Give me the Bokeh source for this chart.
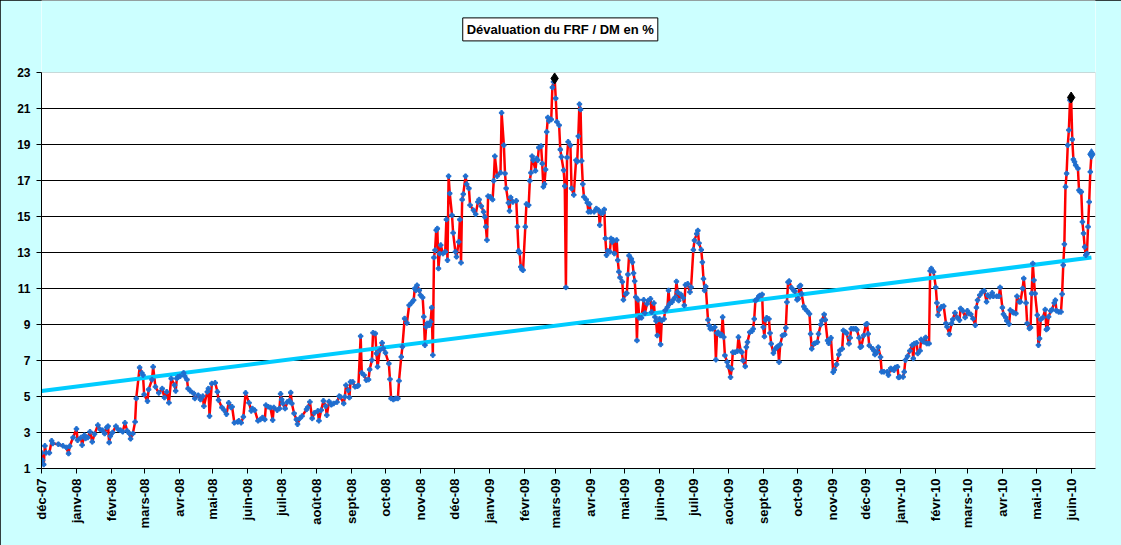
import math
import datetime as dt
from bokeh.plotting import figure
from bokeh.models import FixedTicker, Label, Range1d, ColumnDataSource, BoxAnnotation
from bokeh.embed import file_html
from bokeh.resources import INLINE

title_text = "Dévaluation du FRF / DM en %"
origin = dt.date(2007, 12, 1)      # day 0 of the x axis
x_end_day = 934.6
y_min, y_max = 1, 23
y_ticks = list(range(1, 24, 2))
tick_labels = ["déc-07", "janv-08", "févr-08", "mars-08", "avr-08", "mai-08",
               "juin-08", "juil-08", "août-08", "sept-08", "oct-08", "nov-08",
               "déc-08", "janv-09", "févr-09", "mars-09", "avr-09", "mai-09",
               "juin-09", "juil-09", "août-09", "sept-09", "oct-09", "nov-09",
               "déc-09", "janv-10", "févr-10", "mars-10", "avr-10", "mai-10",
               "juin-10"]

# days since 2007-12-01
days = [0, 1, 2, 3, 4, 7, 9, 10, 15, 19, 22, 24, 25, 28, 31, 32, 35, 36, 38, 39, 41, 43, 45, 47, 50, 52, 54, 56, 58, 59,
        60, 61, 63, 66, 68, 70, 72, 74, 76, 78, 79, 81, 83, 84, 87, 89, 90, 91, 94, 95, 98, 99, 101, 104, 107, 109, 111,
        113, 115, 118, 119, 120, 121, 123, 126, 127, 129, 130, 132, 135, 136, 139, 141, 143, 144, 147, 148, 149, 151,
        154, 156, 157, 160, 162, 164, 166,
        168, 169, 171, 174, 175, 177, 179, 181, 184, 186, 187, 189, 192, 194, 196, 198, 199, 201, 203, 205, 206, 209,
        211, 212, 213, 214, 216, 218, 220, 221, 222, 224, 226, 227, 229, 231, 235, 236, 238, 240, 242, 245, 246, 248,
        250, 252, 253, 255, 257, 259, 262, 264, 265, 268, 269, 270, 272, 273, 274, 276, 278, 280, 281, 283, 284, 286,
        288, 290, 291, 293, 294, 296, 297, 298, 300, 302, 303, 305, 308, 309, 310, 312, 314, 316, 317, 319, 320, 322,
        324, 326, 328,
        330, 331, 332, 333, 335, 336, 338, 339, 340, 341, 342, 344, 345, 346, 347, 348, 349, 350, 351, 352, 353, 354,
        356, 358, 359, 360, 361, 362, 364, 365, 367, 368, 370, 371, 372, 373, 374, 376, 377, 379, 380, 383, 385, 387,
        388, 390, 392, 393, 394, 395, 396, 398, 400, 401, 402, 404, 407, 408, 410, 411, 412, 414, 415, 416, 418, 421,
        422, 423, 424, 425, 426, 427, 429, 430, 432, 433, 434, 435, 436, 438, 439, 440, 441, 443, 444, 445, 446, 447,
        448, 449, 450, 452, 453, 454, 455, 456, 457, 459, 460, 461, 463, 464, 465, 466, 467, 469, 470, 472, 474, 475,
        476, 477, 478, 479, 480, 481, 483, 484, 485, 486, 487, 490, 492, 494, 495, 496, 498, 499, 500, 501, 502, 504,
        505, 506, 507, 508, 510, 511, 512, 513, 515,
        516, 518, 519, 520, 521, 523, 524, 525, 526, 527, 528, 529, 530, 532, 534, 535, 537, 538, 540, 541, 543, 544,
        545, 546, 548, 549, 550, 552, 553, 555, 556, 557, 559, 560, 562, 563, 564, 565, 567, 569, 570, 571, 573, 575,
        576, 578, 579, 581, 582, 583, 585, 586, 587, 588, 589, 591, 592, 593, 595, 597, 598, 599, 600, 602, 603, 604,
        605, 606, 608, 609, 611, 612, 613, 615, 617, 618, 620, 621, 622, 624, 625, 626, 628, 630, 631, 632, 633, 634,
        636, 637, 639, 640, 641, 642, 643, 645, 646, 647, 649, 650, 652, 653, 654, 655, 657, 659, 660, 661, 662, 663,
        665, 667, 668, 670, 671, 672, 673, 674, 676, 677, 679, 681, 682, 683, 685, 686, 688, 689, 691, 692, 694, 695,
        697, 698, 699, 700, 702, 703, 705, 707, 708, 710, 711, 713, 714, 716, 717, 718, 720, 722, 723, 725, 726, 727,
        729, 731, 732, 733, 734, 737, 738, 739, 741, 742, 744,
        745, 747, 750, 751, 753, 754, 756, 757, 759, 760, 761, 764, 765, 766, 768, 770, 772, 773, 774, 776, 777, 779,
        780, 782, 784, 785, 787, 788, 789, 791, 793, 794, 795, 796, 798, 800, 802, 803, 805, 807, 808, 810, 812, 814,
        815, 817, 819, 821, 822, 824, 826, 828, 829, 830, 832, 834, 836, 838, 839, 841, 843, 844, 847, 849, 850, 852,
        853, 855, 856, 858, 859, 861, 862, 864, 865, 867, 868, 870, 871, 873, 874, 876, 877, 878, 879, 880, 881, 883,
        884, 885, 886, 888, 890, 891, 892, 893, 895, 896, 898, 899, 900, 902, 904, 905, 906, 907, 908, 909, 910, 911,
        912, 913, 914, 915, 916, 917, 919, 920, 921, 922, 923, 924, 925, 926, 927, 928, 929, 930, 931]

rates = [1.87, 1.46, 1.22, 2.26, 1.87, 1.87, 2.54, 2.39, 2.35, 2.26, 2.17, 1.83, 2.24, 2.72, 3.2, 2.57, 2.72, 2.3, 2.85,
         2.67, 2.72, 3.04, 2.48, 2.91, 3.41, 3.17, 3.13, 2.94, 3.28, 3.35,
         2.44, 2.8, 3.0, 3.35, 3.17, 3.13, 3.04, 3.54, 3.09, 2.94, 2.65, 2.94, 3.59, 4.89, 6.61, 6.31, 6.19, 5.11, 4.74,
         5.39, 5.94, 6.65, 5.54, 5.2, 5.44, 4.94, 5.26,
         4.65, 6.0, 5.63, 5.31, 6.0, 6.09, 6.13, 6.31, 6.13, 5.94, 5.44, 5.31, 5.17, 4.89, 5.07, 4.83, 5.02, 4.46, 5.26,
         5.44, 3.91, 5.72,
         5.76, 5.26, 4.8, 4.39, 4.24, 4.02, 4.65,
         4.39, 4.43, 3.54, 3.59, 3.65, 3.54, 3.87, 5.2, 4.65, 4.2, 4.33, 4.24, 3.65, 3.72, 3.83, 3.72, 4.52, 4.43, 4.39,
         3.69, 4.39, 4.24,
         4.33, 5.15, 4.83, 4.61, 4.33, 4.7, 4.76, 5.22, 4.61, 4.06, 3.72, 3.46, 3.78, 3.91, 4.28, 4.39, 4.7, 3.78, 4.09,
         4.2, 3.65, 4.24,
         4.76, 4.46, 3.96, 4.72, 4.54, 4.61, 4.69, 5.02, 4.98, 4.61, 4.98, 5.63, 5.35, 4.94, 5.81, 5.81, 5.54, 5.57, 5.61,
         8.35, 6.31, 6.19,
         5.91, 5.94, 6.5, 7.02, 8.54, 8.5, 7.39, 6.65, 7.57, 7.98, 7.67, 7.43, 6.83, 5.96, 4.89, 4.83, 4.89, 4.89, 5.87,
         7.2, 7.76, 9.33,
         9.09, 10.07, 10.2,
         10.35, 11.0, 10.9, 11.18, 10.9, 10.63, 10.5, 9.43, 7.85, 8.87, 9.06, 8.96, 9.15, 9.94, 7.3, 12.72, 13.13, 14.24,
         14.33, 12.11, 12.94, 13.41,
         12.94, 13.04, 14.83, 12.57, 17.24, 16.28, 15.07, 14.09, 13.04, 12.76, 13.59, 14.83, 12.43, 15.94, 16.24, 17.24,
         16.8, 16.56, 15.63, 15.35, 15.13, 15.81,
         15.94, 15.57, 15.26, 14.98, 14.43, 13.69, 16.13, 16.09, 15.94, 16.98, 18.35, 17.24, 17.43, 20.76, 18.96, 17.39,
         16.56, 15.76, 15.31, 16.06, 15.81, 15.87,
         14.43, 13.09, 12.98, 12.2, 12.06, 12.02, 14.43, 15.69, 15.63, 16.98, 17.43, 18.35, 18.13, 17.54, 18.22, 18.13,
         18.83, 18.91, 17.94, 16.65, 16.8, 17.61,
         19.7, 20.5, 20.31, 20.39, 22.17, 22.48, 22.67, 21.56, 20.26, 20.07, 18.72, 18.31, 17.57, 16.69, 11.06, 18.28,
         19.15, 18.96, 16.56, 16.2, 18.13, 18.04,
         19.46, 21.24, 20.94, 18.09, 16.8, 16.09, 15.94, 15.76, 15.26, 15.69, 15.26, 15.26, 15.44, 15.35, 14.52, 15.2,
         15.2, 15.39, 13.78, 12.85, 13.09, 13.04,
         13.78, 13.59, 13.69, 12.94, 13.69, 12.57, 11.93, 11.61, 11.37,
         10.37, 10.7, 10.74, 11.78, 12.83, 12.65, 12.46, 11.85, 11.41, 10.52, 8.11, 10.37, 9.37, 9.37, 10.37, 9.63, 10.15,
         10.33, 10.43, 9.69, 10.19, 9.41,
         9.19, 8.39, 9.31, 7.89, 9.22, 9.31, 9.78, 9.96, 10.89, 10.15, 10.24, 10.37, 10.52, 11.39, 10.8, 10.33, 10.67,
         10.48, 10.06, 11.2, 11.26, 10.8,
         11.07, 13.15, 13.67, 14.04, 14.22, 13.52, 13.15, 12.46, 11.54, 10.89, 11.11, 9.26, 8.94, 8.76, 8.76, 8.85, 7.04,
         8.52, 8.57, 8.39, 8.44, 9.41,
         8.3, 7.28, 6.91, 6.67, 6.07, 6.54, 7.46, 7.46, 7.52, 8.3, 7.52, 7.46, 7.0, 6.67, 7.74, 8.02, 8.57, 8.63, 8.76,
         9.31, 10.33, 10.37,
         10.56, 10.61, 10.67, 8.85, 8.33, 9.26, 9.37, 9.31, 8.52, 7.93, 7.41, 7.59, 7.74, 7.78, 6.91, 7.89, 8.39, 8.44,
         8.81, 10.24, 11.35, 11.41,
         11.04, 10.89, 10.85, 10.37, 10.43, 11.11, 11.17, 10.7, 10.0, 9.87, 9.74, 9.59, 8.48, 7.65, 7.93, 7.96, 8.02,
         8.48, 9.0, 9.22, 9.56, 9.26,
         8.11, 7.96, 8.15, 8.26, 6.35, 6.48, 6.78, 7.33, 7.56, 7.65, 8.67, 8.57, 8.52, 7.93, 8.26, 8.76, 8.76, 8.76, 8.7,
         8.26, 7.74, 7.78,
         8.39, 9.0, 9.04, 8.48, 7.83, 7.65, 7.56, 7.33, 7.46, 7.74, 7.19,
         6.37, 6.37, 6.37, 6.19, 6.56, 6.5, 6.46, 6.61, 6.65, 6.06, 6.09, 6.09, 6.37, 7.02, 7.24, 7.54, 7.85, 7.11, 7.94,
         7.98, 7.39, 7.54,
         8.17, 8.04, 8.28, 7.94, 7.94, 11.98, 12.11, 11.93, 11.06, 10.2, 9.52, 9.83, 9.98, 10.02, 9.06, 8.87, 8.46, 9.06,
         9.28, 9.65, 9.39, 9.24,
         9.89, 9.76, 9.39, 9.76, 9.61, 9.57, 9.33, 8.96, 9.94, 10.35, 10.63, 10.81, 10.87, 10.26, 10.63, 10.54, 10.76,
         10.57, 10.57, 10.57, 11.06, 9.94,
         9.57, 9.39, 9.2, 9.02, 9.8, 9.7, 9.65, 9.61, 10.57, 10.26, 10.26, 11.0, 11.56, 10.2, 9.06, 8.78, 8.83, 10.72,
         12.39, 11.46, 10.72, 9.52,
         7.85, 8.22, 9.28, 9.39, 9.83, 8.72, 8.78, 9.43, 9.76, 9.83, 10.2, 10.35, 9.76, 9.7, 9.7, 10.69, 12.3, 13.46,
         16.65, 17.39, 18.96, 19.8,
         21.46, 21.61, 19.28, 18.17, 18.04, 17.85, 17.67, 16.46, 16.37, 16.37, 14.7, 14.06, 13.31, 12.85, 12.94, 14.43,
         15.81, 17.48, 18.46]

trend_rates = [5.3, 12.72]   # linear trend at first and last day

# ---------------------------------------------------------------------------
month_days = []
yy, mm = 2007, 12
for _ in tick_labels:
    month_days.append((dt.date(yy, mm, 1) - origin).days)
    yy, mm = (yy + 1, 1) if mm == 12 else (yy, mm + 1)

i_max_all = max(range(len(rates)), key=lambda i: rates[i])
i_max_2010 = max((i for i in range(len(rates)) if days[i] >= 762), key=lambda i: rates[i])

FONT = "Liberation Sans"
BLUE = "#1F6FD0"
CYAN = "#CCFFFF"
PX_PER_UNIT = 18.0            # 396 px plot height / 22 units
TOP_PAD = 72                  # px of title band above the value area
y_top = y_max + TOP_PAD / PX_PER_UNIT

# the frame also covers the title band so the boxed title can be drawn there
p = figure(width=1121, height=545, title=None,
           x_range=Range1d(0, x_end_day), y_range=Range1d(y_min, y_top),
           output_backend="svg", toolbar_location=None,
           min_border_left=41, min_border_right=26,
           min_border_top=0, min_border_bottom=77)
p.border_fill_color = CYAN
p.background_fill_color = "white"
p.outline_line_color = None
p.styles = {"outline": "1px solid black", "outline-offset": "-1px"}

# cyan band above the value area + grey frame of the value area
p.add_layout(BoxAnnotation(bottom=y_max, fill_color=CYAN, fill_alpha=1.0,
                           line_alpha=0, level="underlay"))
p.add_layout(BoxAnnotation(left=0, right=x_end_day, bottom=y_min, top=y_max,
                           fill_alpha=0, line_color="#808080", line_width=1,
                           level="underlay"))

p.xgrid.visible = False
p.ygrid.ticker = FixedTicker(ticks=y_ticks[1:-1])
p.ygrid.grid_line_color = "black"
p.ygrid.grid_line_width = 1

for ax in (p.xaxis[0], p.yaxis[0]):
    ax.axis_line_color = "black"
    ax.major_tick_line_color = "black"
    ax.major_tick_in = 0
    ax.major_tick_out = 5
    ax.minor_tick_line_color = None
    ax.major_label_text_font = FONT
    ax.major_label_text_font_style = "bold"
    ax.major_label_text_color = "black"

p.yaxis.ticker = FixedTicker(ticks=y_ticks)
p.yaxis.bounds = (y_min, y_max)
p.yaxis.major_label_text_font_size = "12px"
p.yaxis.major_label_standoff = 6
p.xaxis.ticker = FixedTicker(ticks=month_days)
p.xaxis.major_label_overrides = {d: lab for d, lab in zip(month_days, tick_labels)}
p.xaxis.major_label_orientation = math.pi / 2
p.xaxis.major_label_text_font_size = "13px"
p.xaxis.major_label_standoff = 5

src = ColumnDataSource(dict(x=days, y=rates))
p.line("x", "y", source=src, line_color="#FF0000", line_width=2.5)
p.line(x=[days[0], days[-1]], y=trend_rates, line_color="#00CCFF", line_width=4)
p.scatter("x", "y", source=src, marker="plus", size=4.5, color=BLUE)
p.scatter(x=[days[i_max_all], days[i_max_2010]], y=[rates[i_max_all], rates[i_max_2010]],
          marker="diamond", size=11, color="black")
p.scatter(x=[days[-1]], y=[rates[-1]], marker="diamond", size=11, color=BLUE)

# boxed title with drop shadow, in the band above the value area
title_x = 460.0
title_y = y_top - 28.9 / PX_PER_UNIT
common = dict(text=title_text, text_font=FONT, text_font_size="13px", text_font_style="bold",
              text_align="center", text_baseline="middle", padding=4, level="overlay")
shadow = Label(x=title_x, y=title_y, x_offset=3, y_offset=-3, text_alpha=0,
               background_fill_color="black", border_line_color="black", **common)
title = Label(x=title_x, y=title_y, text_color="black", background_fill_color="white",
              border_line_color="black", border_line_width=1, **common)
p.add_layout(shadow)
p.add_layout(title)

open("out.html", "w").write(file_html(p, INLINE))
